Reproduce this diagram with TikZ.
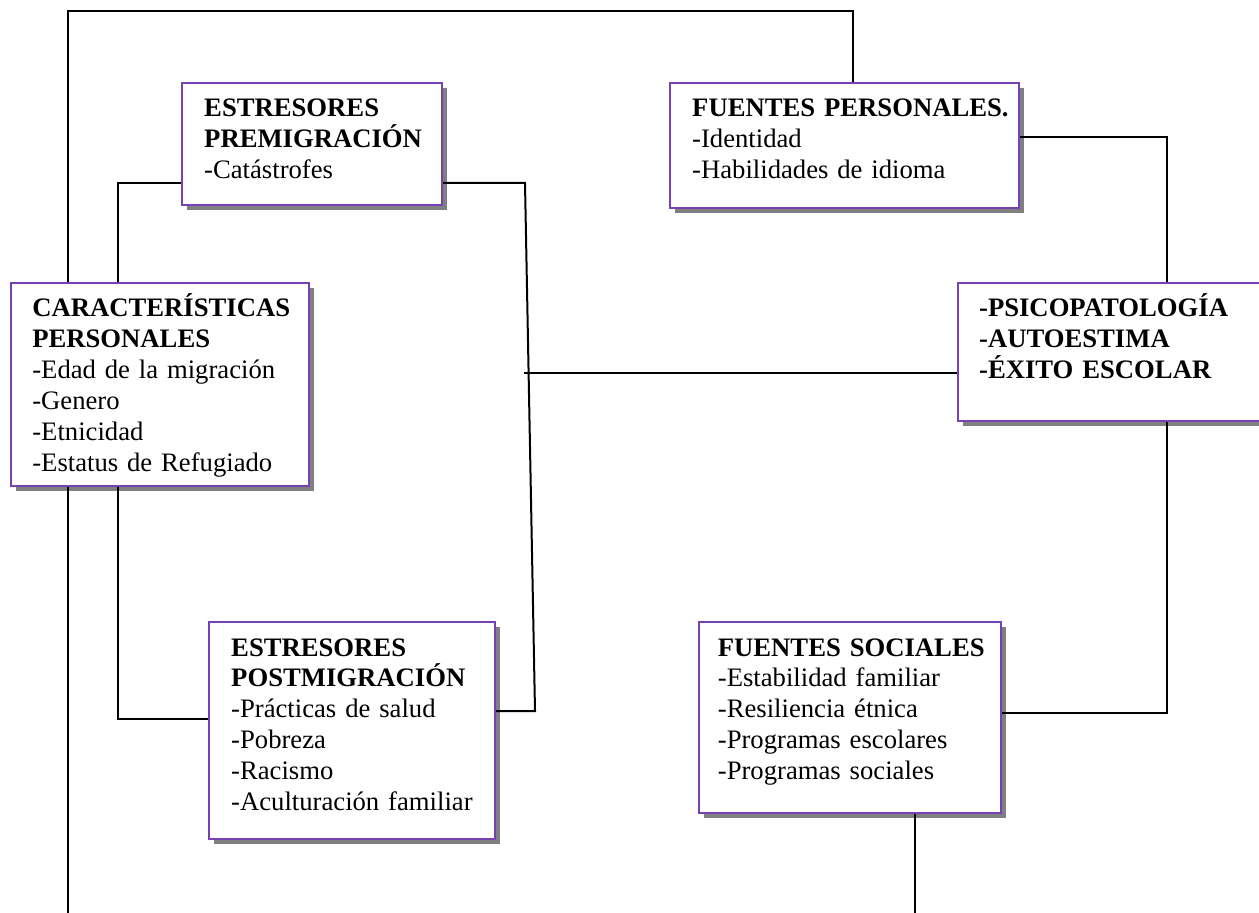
\documentclass[tikz,border=0pt]{standalone}
\usepackage{fontspec}
\setmainfont{Liberation Serif}
\usepackage{xcolor}
\usepackage{tikz}
\usetikzlibrary{shadows}
\definecolor{boxpurple}{RGB}{118,66,178}
\definecolor{sombra}{RGB}{128,128,128}

\begin{document}
\begin{tikzpicture}[x=0.45pt,y=-0.45pt,line width=0.9pt]
    \tikzstyle{caja} = [draw=boxpurple,fill=white,anchor=north west,inner sep=0pt,
        drop shadow={shadow xshift=2.2pt,shadow yshift=-2.2pt,fill=sombra,opacity=1}]
    \tikzstyle{texto} = [anchor=base west,inner sep=0pt,align=left,text width=150pt,
        font=\fontsize{12}{13.9}\selectfont]
    \useasboundingbox (0,0) rectangle (1259,913);
        \node[caja,minimum width=117pt,minimum height=54.9pt] (pre) at (181,82) {};
        \node[caja,minimum width=157pt,minimum height=56.25pt] (fpers) at (669,82) {};
        \node[caja,minimum width=134.1pt,minimum height=91.35pt] (car) at (10,282) {};
        \node[caja,minimum width=137pt,minimum height=62.1pt] (res) at (957,282) {};
        \node[caja,minimum width=128.7pt,minimum height=97.65pt] (post) at (208,621) {};
        \node[caja,minimum width=135.9pt,minimum height=85.95pt] (fsoc) at (698,621) {};
        \node[texto] (pre-t) at ([xshift=10pt,yshift=-15.75pt]pre.north west)
            {\textbf{ESTRESORES}\\\textbf{PREMIGRACIÓN}\\-Catástrofes};
        \node[texto] (fpers-t) at ([xshift=10pt,yshift=-15.75pt]fpers.north west)
            {\textbf{FUENTES PERSONALES.}\\-Identidad\\-Habilidades de idioma};
        \node[texto] (car-t) at ([xshift=9.6pt,yshift=-15.75pt]car.north west)
            {\textbf{CARACTERÍSTICAS}\\\textbf{PERSONALES}\\-Edad de la migración\\-Genero\\-Etnicidad\\-Estatus de Refugiado};
        \node[texto] (res-t) at ([xshift=9.5pt,yshift=-15.75pt]res.north west)
            {\textbf{-PSICOPATOLOGÍA}\\\textbf{-AUTOESTIMA}\\\textbf{-ÉXITO ESCOLAR}};
        \node[texto] (post-t) at ([xshift=10pt,yshift=-15.75pt]post.north west)
            {\textbf{ESTRESORES}\\\textbf{POSTMIGRACIÓN}\\-Prácticas de salud\\-Pobreza\\-Racismo\\-Aculturación familiar};
        \node[texto] (fsoc-t) at ([xshift=8.5pt,yshift=-15.75pt]fsoc.north west)
            {\textbf{FUENTES SOCIALES}\\-Estabilidad familiar\\-Resiliencia étnica\\-Programas escolares\\-Programas sociales};
        \coordinate (arriba-i) at (68,11);
        \coordinate (arriba-d) at (853,11);
        \coordinate (k1) at (118,183);
        \coordinate (s1) at (525,183);
        \coordinate (s2) at (535,711);
        \coordinate (m) at (524,373);
        \coordinate (k2) at (1167,137);
        \coordinate (k3) at (1167,713);
        \coordinate (k4) at (118,719);
        \coordinate (abajo-i) at (68,913);
        \coordinate (abajo-d) at (915,913);
        \draw (car.north -| arriba-i) -- (arriba-i) -- (arriba-d) -- (fpers.north -| arriba-d);
        \draw (car.north -| k1) |- (pre.west |- k1);
        \draw (pre.east |- s1) -- (s1) -- (s2) -- (post.east |- s2);
        \draw (m) -- (res.west |- m);
        \draw (fpers.east |- k2) -| (res.north -| k2);
        \draw (res.south -| k3) |- (fsoc.east |- k3);
        \draw (car.south -| k4) |- (post.west |- k4);
        \draw (car.south -| abajo-i) -- (abajo-i);
        \draw (fsoc.south -| abajo-d) -- (abajo-d);
    \end{tikzpicture}
\end{document}
